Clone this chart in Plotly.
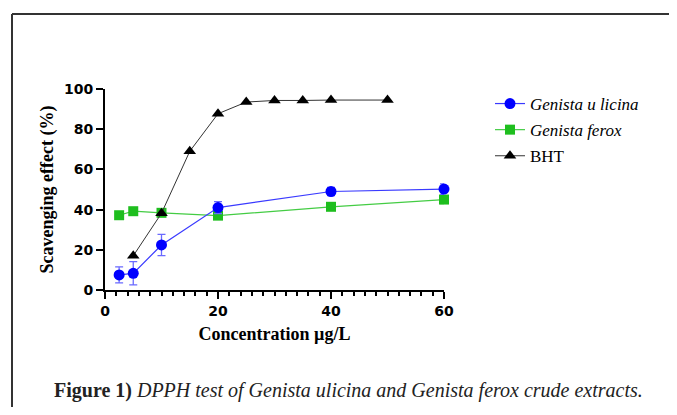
import plotly.graph_objects as go

# Data
x_ulicina = [2.5, 5, 10, 20, 40, 60]
y_ulicina = [7.5, 8.3, 22.4, 41.0, 49.0, 50.2]
e_ulicina = [4.0, 5.8, 5.3, 3.0, 2.0, 2.6]

x_ferox = [2.5, 5, 10, 20, 40, 60]
y_ferox = [37.2, 39.2, 38.4, 37.0, 41.4, 45.0]
e_ferox = [1.2, 0.8, 0.8, 1.2, 1.0, 2.0]

x_bht = [5, 10, 15, 20, 25, 30, 35, 40, 50]
y_bht = [17.0, 38.2, 69.0, 87.7, 93.5, 94.3, 94.3, 94.5, 94.5]

x_ticks = [0, 20, 40, 60]
y_ticks = [0, 20, 40, 60, 80, 100]

fig = go.Figure()

fig.add_trace(go.Scatter(
    x=x_ferox, y=y_ferox, mode="lines+markers",
    name="<i>Genista ferox</i>", legendgroup="b", legendrank=2,
    line=dict(color="#44cc44", width=1.2),
    marker=dict(symbol="square", size=10, color="#1ebe1e"),
    error_y=dict(type="data", array=e_ferox, color="#44cc44", thickness=1.2, width=4),
    cliponaxis=False,
))
fig.add_trace(go.Scatter(
    x=x_bht, y=y_bht, mode="lines+markers",
    name="BHT", legendgroup="c", legendrank=3,
    line=dict(color="#333333", width=1),
    marker=dict(symbol="triangle-up", size=11, color="black"),
    cliponaxis=False,
))
fig.add_trace(go.Scatter(
    x=x_ulicina, y=y_ulicina, mode="lines+markers",
    name="<i>Genista u licina</i>", legendgroup="a", legendrank=1,
    line=dict(color="#3a3aff", width=1.2),
    marker=dict(symbol="circle", size=11, color="#0000ff"),
    error_y=dict(type="data", array=e_ulicina, color="#6a6aff", thickness=1.3, width=4),
    cliponaxis=False,
))

OFF = 8  # page body margin
W, H = 677 - 2 * OFF, 415 - 2 * OFF
L, T = 105 - OFF, 89 - OFF
R, B = W - (444 - OFF), H - (290 - OFF)
pw, ph = W - L - R, H - T - B

def px(xp):
    return (xp - OFF - L) / pw

def py(yp):
    return (H - B - (yp - OFF)) / ph

fig.update_layout(
    width=W, height=H,
    margin=dict(l=L, r=R, t=T, b=B, pad=0),
    paper_bgcolor="white", plot_bgcolor="white",
    showlegend=True,
    legend=dict(
        x=px(490), y=py(86), xanchor="left", yanchor="top",
        font=dict(family="Liberation Serif", size=17, color="black"),
        tracegroupgap=1, bgcolor="rgba(0,0,0,0)",
    ),
    xaxis=dict(
        range=[0, 60], tickvals=x_ticks, ticktext=[str(v) for v in x_ticks],
        showgrid=False, zeroline=False, showline=True, linecolor="black", linewidth=2,
        ticks="outside", ticklen=7, tickwidth=2, tickcolor="black",
        tickfont=dict(family="DejaVu Sans", size=14, color="black", weight="bold"),
        minor=dict(dtick=2, ticks="outside", ticklen=4, tickwidth=1.5, tickcolor="black", showgrid=False),
        title=dict(text="<b>Concentration µg/L</b>", standoff=10,
                   font=dict(family="Liberation Serif", size=18, color="black")),
    ),
    yaxis=dict(
        range=[0, 100], tickvals=y_ticks, ticktext=[str(v) for v in y_ticks],
        showgrid=False, zeroline=False, showline=True, linecolor="black", linewidth=2,
        ticks="outside", ticklen=7, tickwidth=2, tickcolor="black",
        tickfont=dict(family="DejaVu Sans", size=14, color="black", weight="bold"),
        title=dict(text="<b>Scavenging effect (%)</b>", standoff=6,
                   font=dict(family="Liberation Serif", size=18, color="black")),
    ),
    shapes=[
        dict(type="line", xref="paper", yref="paper", x0=px(12), x1=px(700), y0=py(14), y1=py(14),
             line=dict(color="#333333", width=2)),
        dict(type="line", xref="paper", yref="paper", x0=px(12), x1=px(12), y0=py(14), y1=py(440),
             line=dict(color="#333333", width=2)),
    ],
    annotations=[
        dict(xref="paper", yref="paper", x=px(348), y=py(390), xanchor="center", yanchor="middle",
             showarrow=False,
             text="<b>Figure 1)</b> <i>DPPH test of Genista ulicina and Genista ferox crude extracts.</i>",
             font=dict(family="Liberation Serif", size=20, color="#222222")),
    ],
)

fig.write_html("out.html")
